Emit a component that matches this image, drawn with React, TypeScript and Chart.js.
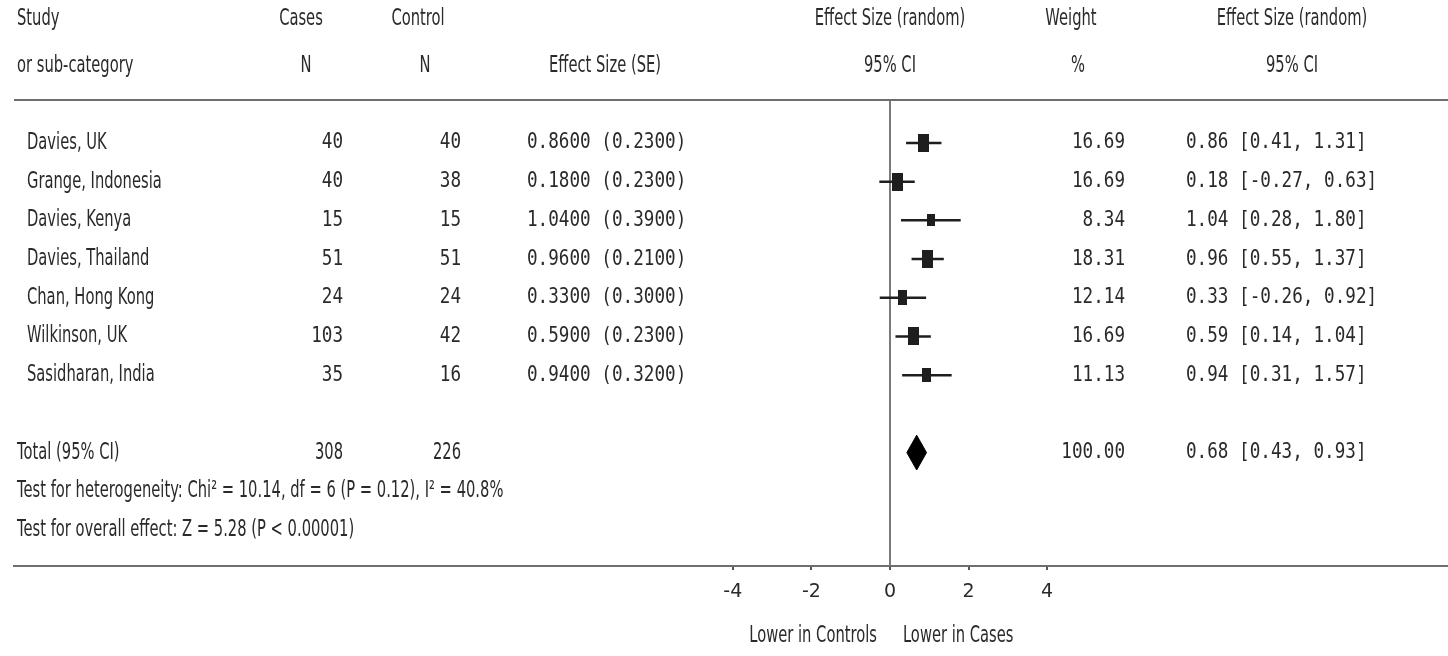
import React, { useEffect, useRef } from "react";
import { Chart, registerables } from "chart.js";

Chart.register(...registerables);

// ---------------- data ----------------
const studies = [
  "Davies, UK",
  "Grange, Indonesia",
  "Davies, Kenya",
  "Davies, Thailand",
  "Chan, Hong Kong",
  "Wilkinson, UK",
  "Sasidharan, India",
];
const casesN = [40, 40, 15, 51, 24, 103, 35];
const controlN = [40, 38, 15, 51, 24, 42, 16];
const effectSize = [0.86, 0.18, 1.04, 0.96, 0.33, 0.59, 0.94];
const standardError = [0.23, 0.23, 0.39, 0.21, 0.3, 0.23, 0.32];
const ciLower = [0.41, -0.27, 0.28, 0.55, -0.26, 0.14, 0.31];
const ciUpper = [1.31, 0.63, 1.8, 1.37, 0.92, 1.04, 1.57];
const weights = [16.69, 16.69, 8.34, 18.31, 12.14, 16.69, 11.13];

const totalCases = 308;
const totalControl = 226;
const pooledEstimate = 0.68;
const pooledLower = 0.43;
const pooledUpper = 0.93;
const totalWeight = 100;

const xTicks = [-4, -2, 0, 2, 4];
const heterogeneityText =
  "Test for heterogeneity: Chi² = 10.14, df = 6 (P = 0.12), I² = 40.8%";
const overallText = "Test for overall effect: Z = 5.28 (P < 0.00001)";
const favoursLeft = "Lower in Controls";
const favoursRight = "Lower in Cases";

// ---------------- layout / style ----------------
const W = 1448;
const H = 656;
const X_MIN = -22.29;
const X_MAX = 14.2;
const Y_MIN = -1.11;
const Y_MAX = 10.93;
const ROW_TOTAL = 8;
const ROW_HET = 9;
const ROW_OVERALL = 10;
const ROW_HEAD1 = -3.2;
const ROW_HEAD2 = -2.0;
const ROW_CAPTION = 12.75;

const COL = {
  headLeft: 17,
  study: 27,
  casesHead: 301,
  casesN: 306,
  cases: 343,
  controlHead: 418,
  controlN: 425,
  control: 461,
  esHead: 605,
  es: 527,
  weightHead: 1071,
  weightPct: 1078,
  weight: 1125,
  ciHead: 1292,
  ci: 1186,
};

const SANS = "23px 'DejaVu Sans', Verdana, sans-serif";
const SANS_SX = 0.64;
const MONO = "21px 'DejaVu Sans Mono', monospace";
const MONO_SX = 0.84;
const TEXT_COLOR = "#2a2a2a";
const LINE_GRAY = "#6e6e6e";
const MARK = "#1e1e1e";

const boxCache: Record<string, HTMLCanvasElement> = {};
function boxFor(w: number): HTMLCanvasElement {
  const key = String(w);
  if (boxCache[key]) return boxCache[key];
  const c = document.createElement("canvas");
  c.width = Math.max(4, Math.round(2.6 * Math.sqrt(w)));
  c.height = Math.max(6, Math.round(4.3 * Math.sqrt(w)));
  const g = c.getContext("2d")!;
  g.fillStyle = MARK;
  g.fillRect(0, 0, c.width, c.height);
  boxCache[key] = c;
  return c;
}

function txt(
  ctx: CanvasRenderingContext2D,
  s: string,
  x: number,
  y: number,
  align: CanvasTextAlign,
  font: string,
  sx: number
) {
  ctx.save();
  ctx.translate(x, y);
  ctx.scale(sx, 1);
  ctx.font = font;
  ctx.fillStyle = TEXT_COLOR;
  ctx.textAlign = align;
  ctx.textBaseline = "middle";
  ctx.fillText(s, 0, 0);
  ctx.restore();
}

const fmtCI = (e: number, l: number, u: number) =>
  `${e.toFixed(2)} [${l.toFixed(2)}, ${u.toFixed(2)}]`;

const forestPlugin = {
  id: "forestText",
  beforeDatasetsDraw(chart: any) {
    const { ctx, chartArea } = chart;
    ctx.save();
    ctx.strokeStyle = LINE_GRAY;
    ctx.lineWidth = 2;
    ctx.beginPath();
    ctx.moveTo(chartArea.left, chartArea.top);
    ctx.lineTo(chartArea.right, chartArea.top);
    ctx.stroke();
    ctx.restore();
  },
  afterDraw(chart: any) {
    const { ctx } = chart;
    const xs = chart.scales.x;
    const ys = chart.scales.y;
    const r = (v: number) => ys.getPixelForValue(v);
    const h1 = r(ROW_HEAD1);
    const h2 = r(ROW_HEAD2);
    const forestCenter = xs.getPixelForValue(0);

    // headers
    txt(ctx, "Study", COL.headLeft, h1, "left", SANS, SANS_SX);
    txt(ctx, "or sub-category", COL.headLeft, h2, "left", SANS, SANS_SX);
    txt(ctx, "Cases", COL.casesHead, h1, "center", SANS, SANS_SX);
    txt(ctx, "N", COL.casesN, h2, "center", SANS, SANS_SX);
    txt(ctx, "Control", COL.controlHead, h1, "center", SANS, SANS_SX);
    txt(ctx, "N", COL.controlN, h2, "center", SANS, SANS_SX);
    txt(ctx, "Effect Size (SE)", COL.esHead, h2, "center", SANS, SANS_SX);
    txt(ctx, "Effect Size (random)", forestCenter, h1, "center", SANS, SANS_SX);
    txt(ctx, "95% CI", forestCenter, h2, "center", SANS, SANS_SX);
    txt(ctx, "Weight", COL.weightHead, h1, "center", SANS, SANS_SX);
    txt(ctx, "%", COL.weightPct, h2, "center", SANS, SANS_SX);
    txt(ctx, "Effect Size (random)", COL.ciHead, h1, "center", SANS, SANS_SX);
    txt(ctx, "95% CI", COL.ciHead, h2, "center", SANS, SANS_SX);

    // study rows
    studies.forEach((name, i) => {
      const y = r(i);
      txt(ctx, name, COL.study, y, "left", SANS, SANS_SX);
      txt(ctx, String(casesN[i]), COL.cases, y, "right", MONO, MONO_SX);
      txt(ctx, String(controlN[i]), COL.control, y, "right", MONO, MONO_SX);
      txt(
        ctx,
        `${effectSize[i].toFixed(4)} (${standardError[i].toFixed(4)})`,
        COL.es,
        y,
        "left",
        MONO,
        MONO_SX
      );
      txt(ctx, weights[i].toFixed(2), COL.weight, y, "right", MONO, MONO_SX);
      txt(ctx, fmtCI(effectSize[i], ciLower[i], ciUpper[i]), COL.ci, y, "left", MONO, MONO_SX);
    });

    // total row
    const yt = r(ROW_TOTAL);
    txt(ctx, "Total (95% CI)", COL.headLeft, yt, "left", SANS, SANS_SX);
    txt(ctx, String(totalCases), COL.cases, yt, "right", SANS, SANS_SX);
    txt(ctx, String(totalControl), COL.control, yt, "right", SANS, SANS_SX);
    txt(ctx, totalWeight.toFixed(2), COL.weight, yt, "right", MONO, MONO_SX);
    txt(ctx, fmtCI(pooledEstimate, pooledLower, pooledUpper), COL.ci, yt, "left", MONO, MONO_SX);
    txt(ctx, heterogeneityText, COL.headLeft, r(ROW_HET), "left", SANS, SANS_SX);
    txt(ctx, overallText, COL.headLeft, r(ROW_OVERALL), "left", SANS, SANS_SX);

    // favours captions
    const yc = r(ROW_CAPTION);
    txt(ctx, favoursLeft, xs.getPixelForValue(-0.33), yc, "right", SANS, SANS_SX);
    txt(ctx, favoursRight, xs.getPixelForValue(0.33), yc, "left", SANS, SANS_SX);
  },
};

export default function App() {
  const ref = useRef<HTMLCanvasElement | null>(null);

  useEffect(() => {
    document.body.style.margin = "0";
    document.body.style.background = "#fff";
    if (!ref.current) return;

    const ciDatasets = studies.map((_, i) => ({
      type: "scatter" as const,
      data: [
        { x: ciLower[i], y: i },
        { x: ciUpper[i], y: i },
      ],
      showLine: true,
      borderColor: MARK,
      borderWidth: 2.5,
      pointRadius: 0,
      fill: false,
      order: 2,
    }));

    const chart = new Chart(ref.current, {
      type: "scatter",
      data: {
        datasets: [
          {
            data: effectSize.map((e, i) => ({ x: e, y: i })),
            pointStyle: (c: any) => boxFor(weights[c.dataIndex] ?? 10),
            pointRadius: 6,
            showLine: false,
            order: 0,
          } as any,
          {
            data: [
              { x: pooledLower, y: ROW_TOTAL },
              { x: pooledEstimate, y: ROW_TOTAL - 0.45 },
              { x: pooledUpper, y: ROW_TOTAL },
              { x: pooledEstimate, y: ROW_TOTAL + 0.45 },
              { x: pooledLower, y: ROW_TOTAL },
            ],
            showLine: true,
            fill: "shape",
            backgroundColor: "#000",
            borderColor: "#000",
            borderWidth: 1,
            pointRadius: 0,
            tension: 0,
            order: 0,
          } as any,
          ...ciDatasets,
        ],
      },
      options: {
        responsive: false,
        animation: false,
        layout: {
          autoPadding: false,
          padding: { left: 14, right: 0, top: 100, bottom: 0 },
        },
        plugins: {
          legend: { display: false },
          tooltip: { enabled: false },
        },
        scales: {
          x: {
            type: "linear",
            min: X_MIN,
            max: X_MAX,
            afterBuildTicks: (s: any) => {
              s.ticks = xTicks.map((v) => ({ value: v }));
            },
            afterFit: (s: any) => {
              s.height = 90;
              s.paddingLeft = 0;
              s.paddingRight = 0;
            },
            grid: {
              drawOnChartArea: true,
              color: (c: any) =>
                c.tick && c.tick.value === 0 ? "#7a7a7a" : "rgba(0,0,0,0)",
              lineWidth: 2,
              tickColor: "#555",
              tickLength: 4,
              tickWidth: 2,
            },
            border: { display: true, color: LINE_GRAY, width: 2 },
            ticks: {
              color: TEXT_COLOR,
              font: { family: "'DejaVu Sans', Verdana, sans-serif", size: 19 },
              padding: 11,
              maxRotation: 0,
              autoSkip: false,
              callback: (v: any) => String(v),
            },
          },
          y: {
            type: "linear",
            display: false,
            reverse: true,
            min: Y_MIN,
            max: Y_MAX,
          },
        },
      } as any,
      plugins: [forestPlugin],
    });

    return () => chart.destroy();
  }, []);

  return (
    <div style={{ width: W, height: H }}>
      <canvas ref={ref} width={W} height={H} style={{ display: "block" }} />
    </div>
  );
}
